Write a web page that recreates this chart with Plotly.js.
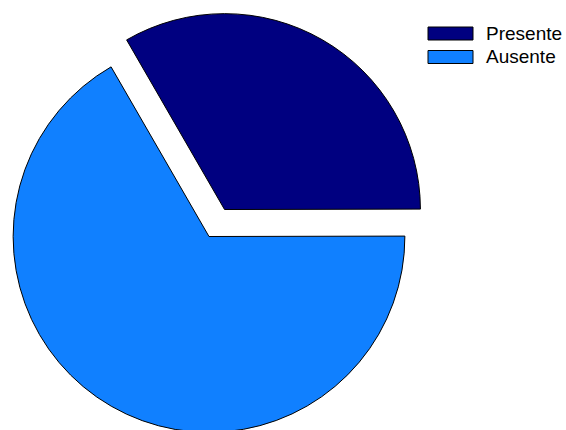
<!DOCTYPE html>
<html><head><meta charset="utf-8">
<script src="https://cdn.plot.ly/plotly-3.0.1.min.js"></script>
<style>
html,body{margin:0;padding:0;background:#fff;overflow:hidden}
#wrap{position:relative;width:566px;height:430px;overflow:hidden;background:#fff}
#chart{position:absolute;left:-20px;top:0}
</style></head>
<body><div id="wrap"><div id="chart"></div></div>
<script>
const labels = ['Presente', 'Ausente'];
const values = [33.3, 66.7];
const colors = ['#000080', '#1080ff'];
const pulls = [0.159, 0];

const W = 586, H = 464, OFFX = 20, T = 9;
function px2x(px) { return (px + OFFX) / W; }
function py2y(py) { return 1 - (py - T) / (H - T); }

const shapes = [], annotations = [];
const legendY = [33.5, 57];
labels.forEach((lab, i) => {
  const cy = legendY[i];
  shapes.push({type:'rect', xref:'paper', yref:'paper',
    x0: px2x(428), x1: px2x(473), y0: py2y(cy - 6.5), y1: py2y(cy + 6.5),
    fillcolor: colors[i], line:{color:'#000', width:1}});
  annotations.push({xref:'paper', yref:'paper', x: px2x(484), y: py2y(cy),
    xanchor:'left', yanchor:'middle', showarrow:false, text: lab,
    font:{family:'Liberation Sans, Arial, sans-serif', size:19, color:'#000'}});
});

const trace = {
  type:'pie', labels: labels, values: values, sort:false,
  direction:'clockwise', rotation:-30, pull: pulls,
  marker:{colors: colors, line:{color:'#000', width:1}},
  textinfo:'none', hoverinfo:'label+percent',
  domain:{x:[0.0034, 0.7782], y:[0, 1]},
  showlegend:false
};

Plotly.newPlot('chart', [trace], {
  width: W, height: H,
  margin:{l:0, r:0, t:T, b:0},
  paper_bgcolor:'#fff', plot_bgcolor:'#fff',
  showlegend:false, shapes: shapes, annotations: annotations
}, {displayModeBar:false, staticPlot:true});
</script>
</body></html>
